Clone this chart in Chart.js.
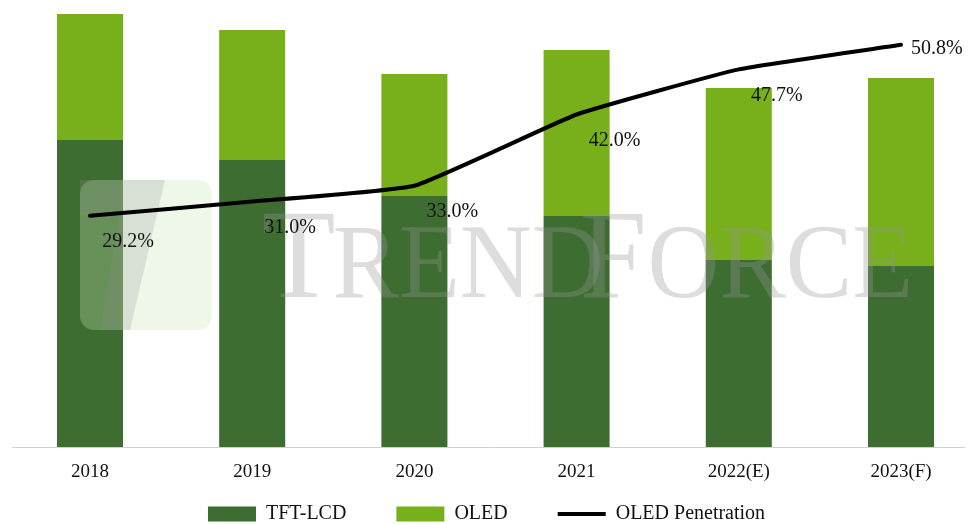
<!DOCTYPE html>
<html>
<head>
<meta charset="utf-8">
<script src="https://cdn.jsdelivr.net/npm/chart.js@4/dist/chart.umd.min.js"></script>
<style>
  html, body { margin: 0; padding: 0; background: #fff; overflow: hidden; }
  #wrap { width: 970px; height: 524px; }
</style>
</head>
<body>
<div id="wrap"><canvas id="chart"></canvas></div>
<script>
const years = ['2018', '2019', '2020', '2021', '2022(E)', '2023(F)'];
const tftLcd = [307, 287, 251, 231, 187, 181];
const oled = [126, 130, 122, 166, 172, 188];
const penetration = [29.2, 31.0, 33.0, 42.0, 47.7, 50.8];

const serif = '"Liberation Serif", "Times New Roman", serif';

function drawWatermark(ctx) {
  ctx.save();
  ctx.fillStyle = 'rgba(200,228,180,0.3)';
  ctx.beginPath();
  ctx.roundRect(80, 180, 132, 150, 14);
  ctx.fill();
  ctx.fillStyle = 'rgba(140,140,140,0.22)';
  ctx.beginPath();
  ctx.moveTo(80, 180); ctx.lineTo(165, 180); ctx.lineTo(130, 330); ctx.lineTo(100, 330);
  ctx.lineTo(120, 215); ctx.lineTo(80, 215);
  ctx.closePath();
  ctx.fill();
  ctx.translate(262, 297);
  ctx.scale(0.94, 1);
  ctx.fillStyle = 'rgba(150,150,150,0.32)';
  ctx.textBaseline = 'alphabetic';
  ctx.font = '128px ' + serif;
  ctx.fillText('T', 0, 0);
  ctx.font = '106px ' + serif;
  ctx.fillText('REND', 75, 0);
  ctx.font = '128px ' + serif;
  ctx.fillText('F', 338, 0);
  ctx.font = '106px ' + serif;
  ctx.fillText('ORCE', 410, 0);
  ctx.restore();
}

const extras = {
  id: 'extras',
  afterLayout(chart) {
    // legend: wide gaps between items, moved to the reference spot
    const lg = chart.legend;
    const pad = lg.options.labels.padding;
    const start = (lg.left + pad + lg.right - lg.lineWidths[0]) / 2;
    const dx = 208 - start;
    lg.left += dx;
    lg.right += dx;
    lg.top = 514 - pad - 10;
    lg.bottom = chart.height;
    lg.height = lg.bottom - lg.top;
  },
  beforeDatasetsDraw(chart) {
    const { ctx, chartArea } = chart;
    ctx.save();
    ctx.strokeStyle = '#d0d0d0';
    ctx.lineWidth = 1;
    ctx.beginPath();
    ctx.moveTo(12, chartArea.bottom + 0.5);
    ctx.lineTo(965, chartArea.bottom + 0.5);
    ctx.stroke();
    ctx.restore();
  },
  beforeDatasetDraw(chart, args) {
    if (args.index === 2) drawWatermark(chart.ctx);
  },
  afterDatasetsDraw(chart) {
    const { ctx } = chart;
    ctx.save();
    const meta = chart.getDatasetMeta(2);
    ctx.fillStyle = '#111';
    ctx.font = '20px ' + serif;
    ctx.textBaseline = 'middle';
    meta.data.forEach((pt, i) => {
      const txt = penetration[i].toFixed(1) + '%';
      if (i === meta.data.length - 1) {
        ctx.textAlign = 'left';
        ctx.fillText(txt, pt.x + 10, pt.y + 4);
      } else {
        ctx.textAlign = 'center';
        ctx.fillText(txt, pt.x + 38, pt.y + 26);
      }
    });
    ctx.restore();
  }
};

new Chart(document.getElementById('chart'), {
  type: 'bar',
  data: {
    labels: years,
    datasets: [
      {
        label: 'TFT-LCD',
        data: tftLcd,
        backgroundColor: '#3E6D32',
        stack: 's',
        clip: false,
        order: 2
      },
      {
        label: 'OLED',
        data: oled,
        backgroundColor: '#77B01A',
        stack: 's',
        clip: false,
        order: 2
      },
      {
        type: 'line',
        label: 'OLED Penetration',
        data: penetration,
        yAxisID: 'y1',
        borderColor: '#000',
        backgroundColor: '#000',
        borderWidth: 4,
        tension: 0.12,
        pointRadius: 0,
        borderCapStyle: 'round',
        borderJoinStyle: 'round',
        clip: false,
        order: 1
      }
    ]
  },
  options: {
    responsive: true,
    maintainAspectRatio: false,
    animation: false,
    layout: { padding: { top: 10, left: 90, right: 69, bottom: 0 } },
    plugins: {
      legend: {
        position: 'bottom',
        maxHeight: 43,
        labels: {
          usePointStyle: true,
          pointStyleWidth: 48,
          boxHeight: 15,
          color: '#111',
          font: { family: serif, size: 20 },
          padding: 50,
          sort: (a, b) => a.datasetIndex - b.datasetIndex,
          generateLabels(chart) {
            const items = Chart.defaults.plugins.legend.labels.generateLabels(chart);
            items.forEach(it => {
              if (it.datasetIndex === 2) {
                it.pointStyle = 'line';
                it.lineWidth = 4;
                it.strokeStyle = '#000';
              } else {
                it.pointStyle = 'rect';
                it.lineWidth = 0;
              }
            });
            return items;
          }
        }
      },
      tooltip: { enabled: false }
    },
    scales: {
      x: {
        offset: false,
        stacked: true,
        grid: { display: false },
        border: { display: false },
        ticks: { color: '#111', font: { family: serif, size: 19 }, padding: 6 },
        afterFit(scale) { scale.height = 34; }
      },
      y: {
        display: false,
        stacked: true,
        min: 0,
        max: 437
      },
      y1: {
        display: false,
        min: 0,
        max: 55.2
      }
    },
    datasets: {
      bar: { barPercentage: 0.407, categoryPercentage: 1 }
    }
  },
  plugins: [extras]
});
</script>
</body>
</html>
